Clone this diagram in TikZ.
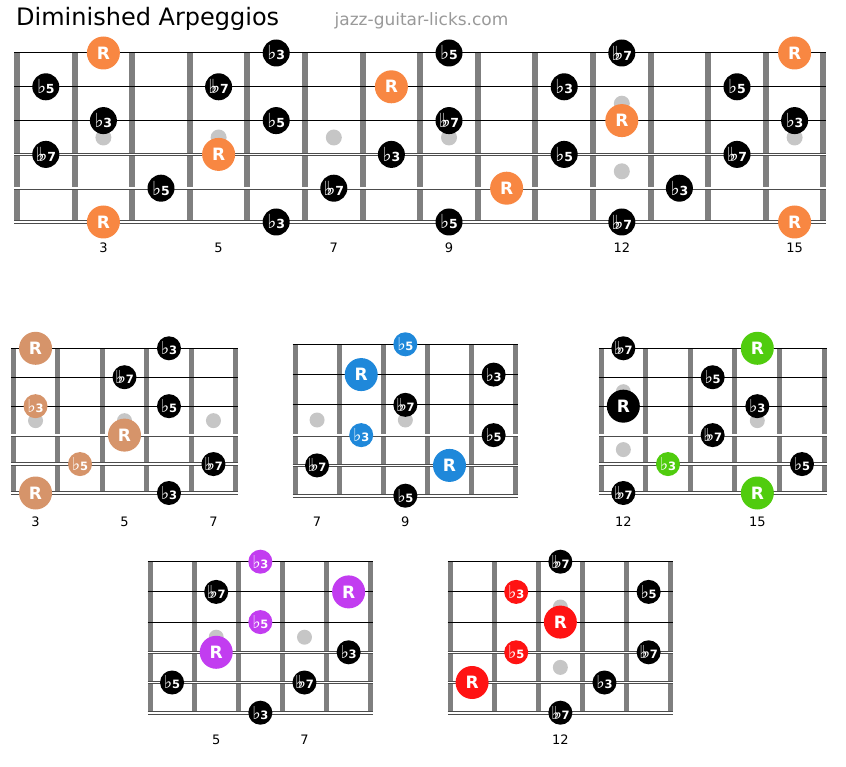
\documentclass[tikz,border=0pt]{standalone}
\usepackage{fontspec}
\setmainfont{DejaVu Sans}
\newfontfamily\symfont{DejaVu Sans}
\usepackage{tikz}
\usepackage{xcolor}
\usepackage{graphicx}
\usetikzlibrary{positioning}
\definecolor{fretgray}{HTML}{7F7F7F}
\definecolor{dotgray}{HTML}{C6C6C6}
\definecolor{urlgray}{HTML}{999999}
\definecolor{rootorange}{HTML}{F88742}
\definecolor{roottan}{HTML}{D6946A}
\definecolor{rootblue}{HTML}{1F88DA}
\definecolor{rootgreen}{HTML}{50CC0E}
\definecolor{rootpurple}{HTML}{C23DF0}
\definecolor{rootred}{HTML}{FF1313}
\newcommand{\fl}{{\symfont\mdseries\scalebox{1.55}{♭}\kern-0.02em}}
\newcommand{\dfl}{{\symfont\mdseries\scalebox{1.55}{♭\kern-0.33em♭}\kern-0.02em}}
\tikzstyle{fret}=[line width=5pt, draw=fretgray]
\tikzstyle{thinstring}=[line width=1pt, draw=black]
\tikzstyle{thickstring}=[line width=0.75pt, draw=black!70, double=white]
\tikzstyle{dot}=[circle, fill=dotgray, inner sep=0pt, minimum size=15pt]
\tikzstyle{accent}=[fill=black]
\tikzstyle{note}=[circle, fill=black, text=white, inner sep=0pt, minimum size=24pt, font=\bfseries\fontsize{11.5}{11.5}\selectfont]
\tikzstyle{hl}=[note, accent]
\tikzstyle{root}=[note, accent, minimum size=33pt, font=\bfseries\fontsize{17}{17}\selectfont]
\tikzstyle{blackroot}=[root, fill=black]
\tikzstyle{fretnum}=[font=\fontsize{13}{13}\selectfont]
\newcommand{\board}[2]{%
  \foreach \k in {0,...,#1} \draw[fret] (\k,0) -- (\k,5);
  \foreach \s in {0,1,2} \draw[thinstring] ([xshift=-#2]0,\s) -- ([xshift=#2]#1,\s);
  \foreach \s/\w in {3/1.3pt,4/1.7pt,5/2.1pt}
    \draw[thickstring, double distance=\w] ([xshift=-#2]0,\s) -- ([xshift=#2]#1,\s);
}

\begin{document}
\begin{tikzpicture}[x=1pt, y=-1pt]
	\useasboundingbox (0,0) rectangle (846,767);
	\node [anchor=base west, inner sep=0pt, font=\fontsize{24}{24}\selectfont] (title) at (16,26) {Diminished Arpeggios};
	\node [base right=55pt of title, inner sep=0pt, text=urlgray, font=\fontsize{17}{17}\selectfont] (url) {jazz-guitar-licks.com};

	\begin{scope}[shift={(17,53)}, x=57.6pt, y=-33.8pt, accent/.style={fill=rootorange},
		fret/.append style={line width=6pt}, dot/.append style={minimum size=16pt},
		note/.append style={minimum size=27pt, font=\bfseries\fontsize{12.5}{12.5}\selectfont}]
		\board{14}{3pt}
		\foreach \c/\s [count=\i] in {1.5/2.5, 3.5/2.5, 5.5/2.5, 7.5/2.5, 10.5/1.5, 10.5/3.5, 13.5/2.5}
			\node[dot] (top-dot\i) at (\c,\s) {};
		\foreach \c/\s/\t/\st [count=\i] in {1.5/0/R/root, 4.5/0/\fl3/note, 7.5/0/\fl5/note, 10.5/0/\dfl7/note, 13.5/0/R/root,
			0.5/1/\fl5/note, 3.5/1/\dfl7/note, 6.5/1/R/root, 9.5/1/\fl3/note, 12.5/1/\fl5/note,
			1.5/2/\fl3/note, 4.5/2/\fl5/note, 7.5/2/\dfl7/note, 10.5/2/R/root, 13.5/2/\fl3/note,
			0.5/3/\dfl7/note, 3.5/3/R/root, 6.5/3/\fl3/note, 9.5/3/\fl5/note, 12.5/3/\dfl7/note,
			2.5/4/\fl5/note, 5.5/4/\dfl7/note, 8.5/4/R/root, 11.5/4/\fl3/note,
			1.5/5/R/root, 4.5/5/\fl3/note, 7.5/5/\fl5/note, 10.5/5/\dfl7/note, 13.5/5/R/root}
			\node[\st] (top-\i) at (\c,\s) {\t};
		\foreach \c/\n in {1.5/3, 3.5/5, 5.5/7, 7.5/9, 10.5/12, 13.5/15}
			\node[fretnum] (top-fret\n) at (\c,5.77) {\n};
	\end{scope}

	\begin{scope}[shift={(13.3,348.3)}, x=44.48pt, y=-28.94pt, accent/.style={fill=roottan}]
		\board{5}{2.5pt}
		\foreach \c/\s [count=\i] in {0.5/2.5, 2.5/2.5, 4.5/2.5}
			\node[dot] (tan-dot\i) at (\c,\s) {};
		\foreach \c/\s/\t/\st [count=\i] in {0.5/0/R/root, 3.5/0/\fl3/note, 2.5/1/\dfl7/note,
			0.5/2/\fl3/hl, 3.5/2/\fl5/note, 2.5/3/R/root, 1.5/4/\fl5/hl, 4.5/4/\dfl7/note,
			0.5/5/R/root, 3.5/5/\fl3/note}
			\node[\st] (tan-\i) at (\c,\s) {\t};
		\foreach \c/\n in {0.5/3, 2.5/5, 4.5/7}
			\node[fretnum] (tan-fret\n) at (\c,5.99) {\n};
	\end{scope}

	\begin{scope}[shift={(295,344.3)}, x=44.14pt, y=-30.28pt, accent/.style={fill=rootblue}]
		\board{5}{2.5pt}
		\foreach \c/\s [count=\i] in {0.5/2.5, 2.5/2.5}
			\node[dot] (blue-dot\i) at (\c,\s) {};
		\foreach \c/\s/\t/\st [count=\i] in {2.5/0/\fl5/hl, 1.5/1/R/root, 4.5/1/\fl3/note,
			2.5/2/\dfl7/note, 1.5/3/\fl3/hl, 4.5/3/\fl5/note, 0.5/4/\dfl7/note, 3.5/4/R/root,
			2.5/5/\fl5/note}
			\node[\st] (blue-\i) at (\c,\s) {\t};
		\foreach \c/\n in {0.5/7, 2.5/9}
			\node[fretnum] (blue-fret\n) at (\c,5.86) {\n};
	\end{scope}

	\begin{scope}[shift={(601,348.3)}, x=44.66pt, y=-28.94pt, accent/.style={fill=rootgreen}]
		\board{5}{2.5pt}
		\foreach \c/\s [count=\i] in {0.5/1.5, 0.5/3.5, 3.5/2.5}
			\node[dot] (green-dot\i) at (\c,\s) {};
		\foreach \c/\s/\t/\st [count=\i] in {0.5/0/\dfl7/note, 3.5/0/R/root, 2.5/1/\fl5/note,
			0.5/2/R/blackroot, 3.5/2/\fl3/note, 2.5/3/\dfl7/note, 1.5/4/\fl3/hl, 4.5/4/\fl5/note,
			0.5/5/\dfl7/note, 3.5/5/R/root}
			\node[\st] (green-\i) at (\c,\s) {\t};
		\foreach \c/\n in {0.5/12, 3.5/15}
			\node[fretnum] (green-fret\n) at (\c,5.99) {\n};
	\end{scope}

	\begin{scope}[shift={(150,561.7)}, x=44.14pt, y=-30.2pt, accent/.style={fill=rootpurple}]
		\board{5}{2.5pt}
		\foreach \c/\s [count=\i] in {1.5/2.5, 3.5/2.5}
			\node[dot] (purple-dot\i) at (\c,\s) {};
		\foreach \c/\s/\t/\st [count=\i] in {2.5/0/\fl3/hl, 1.5/1/\dfl7/note, 4.5/1/R/root,
			2.5/2/\fl5/hl, 1.5/3/R/root, 4.5/3/\fl3/note, 0.5/4/\fl5/note, 3.5/4/\dfl7/note,
			2.5/5/\fl3/note}
			\node[\st] (purple-\i) at (\c,\s) {\t};
		\foreach \c/\n in {1.5/5, 3.5/7}
			\node[fretnum] (purple-fret\n) at (\c,5.89) {\n};
	\end{scope}

	\begin{scope}[shift={(450,561.7)}, x=44.14pt, y=-30.2pt, accent/.style={fill=rootred}]
		\board{5}{2.5pt}
		\foreach \c/\s [count=\i] in {2.5/1.5, 2.5/3.5}
			\node[dot] (red-dot\i) at (\c,\s) {};
		\foreach \c/\s/\t/\st [count=\i] in {2.5/0/\dfl7/note, 1.5/1/\fl3/hl, 4.5/1/\fl5/note,
			2.5/2/R/root, 1.5/3/\fl5/hl, 4.5/3/\dfl7/note, 0.5/4/R/root, 3.5/4/\fl3/note,
			2.5/5/\dfl7/note}
			\node[\st] (red-\i) at (\c,\s) {\t};
		\foreach \c/\n in {2.5/12}
			\node[fretnum] (red-fret\n) at (\c,5.88) {\n};
	\end{scope}
\end{tikzpicture}
\end{document}
